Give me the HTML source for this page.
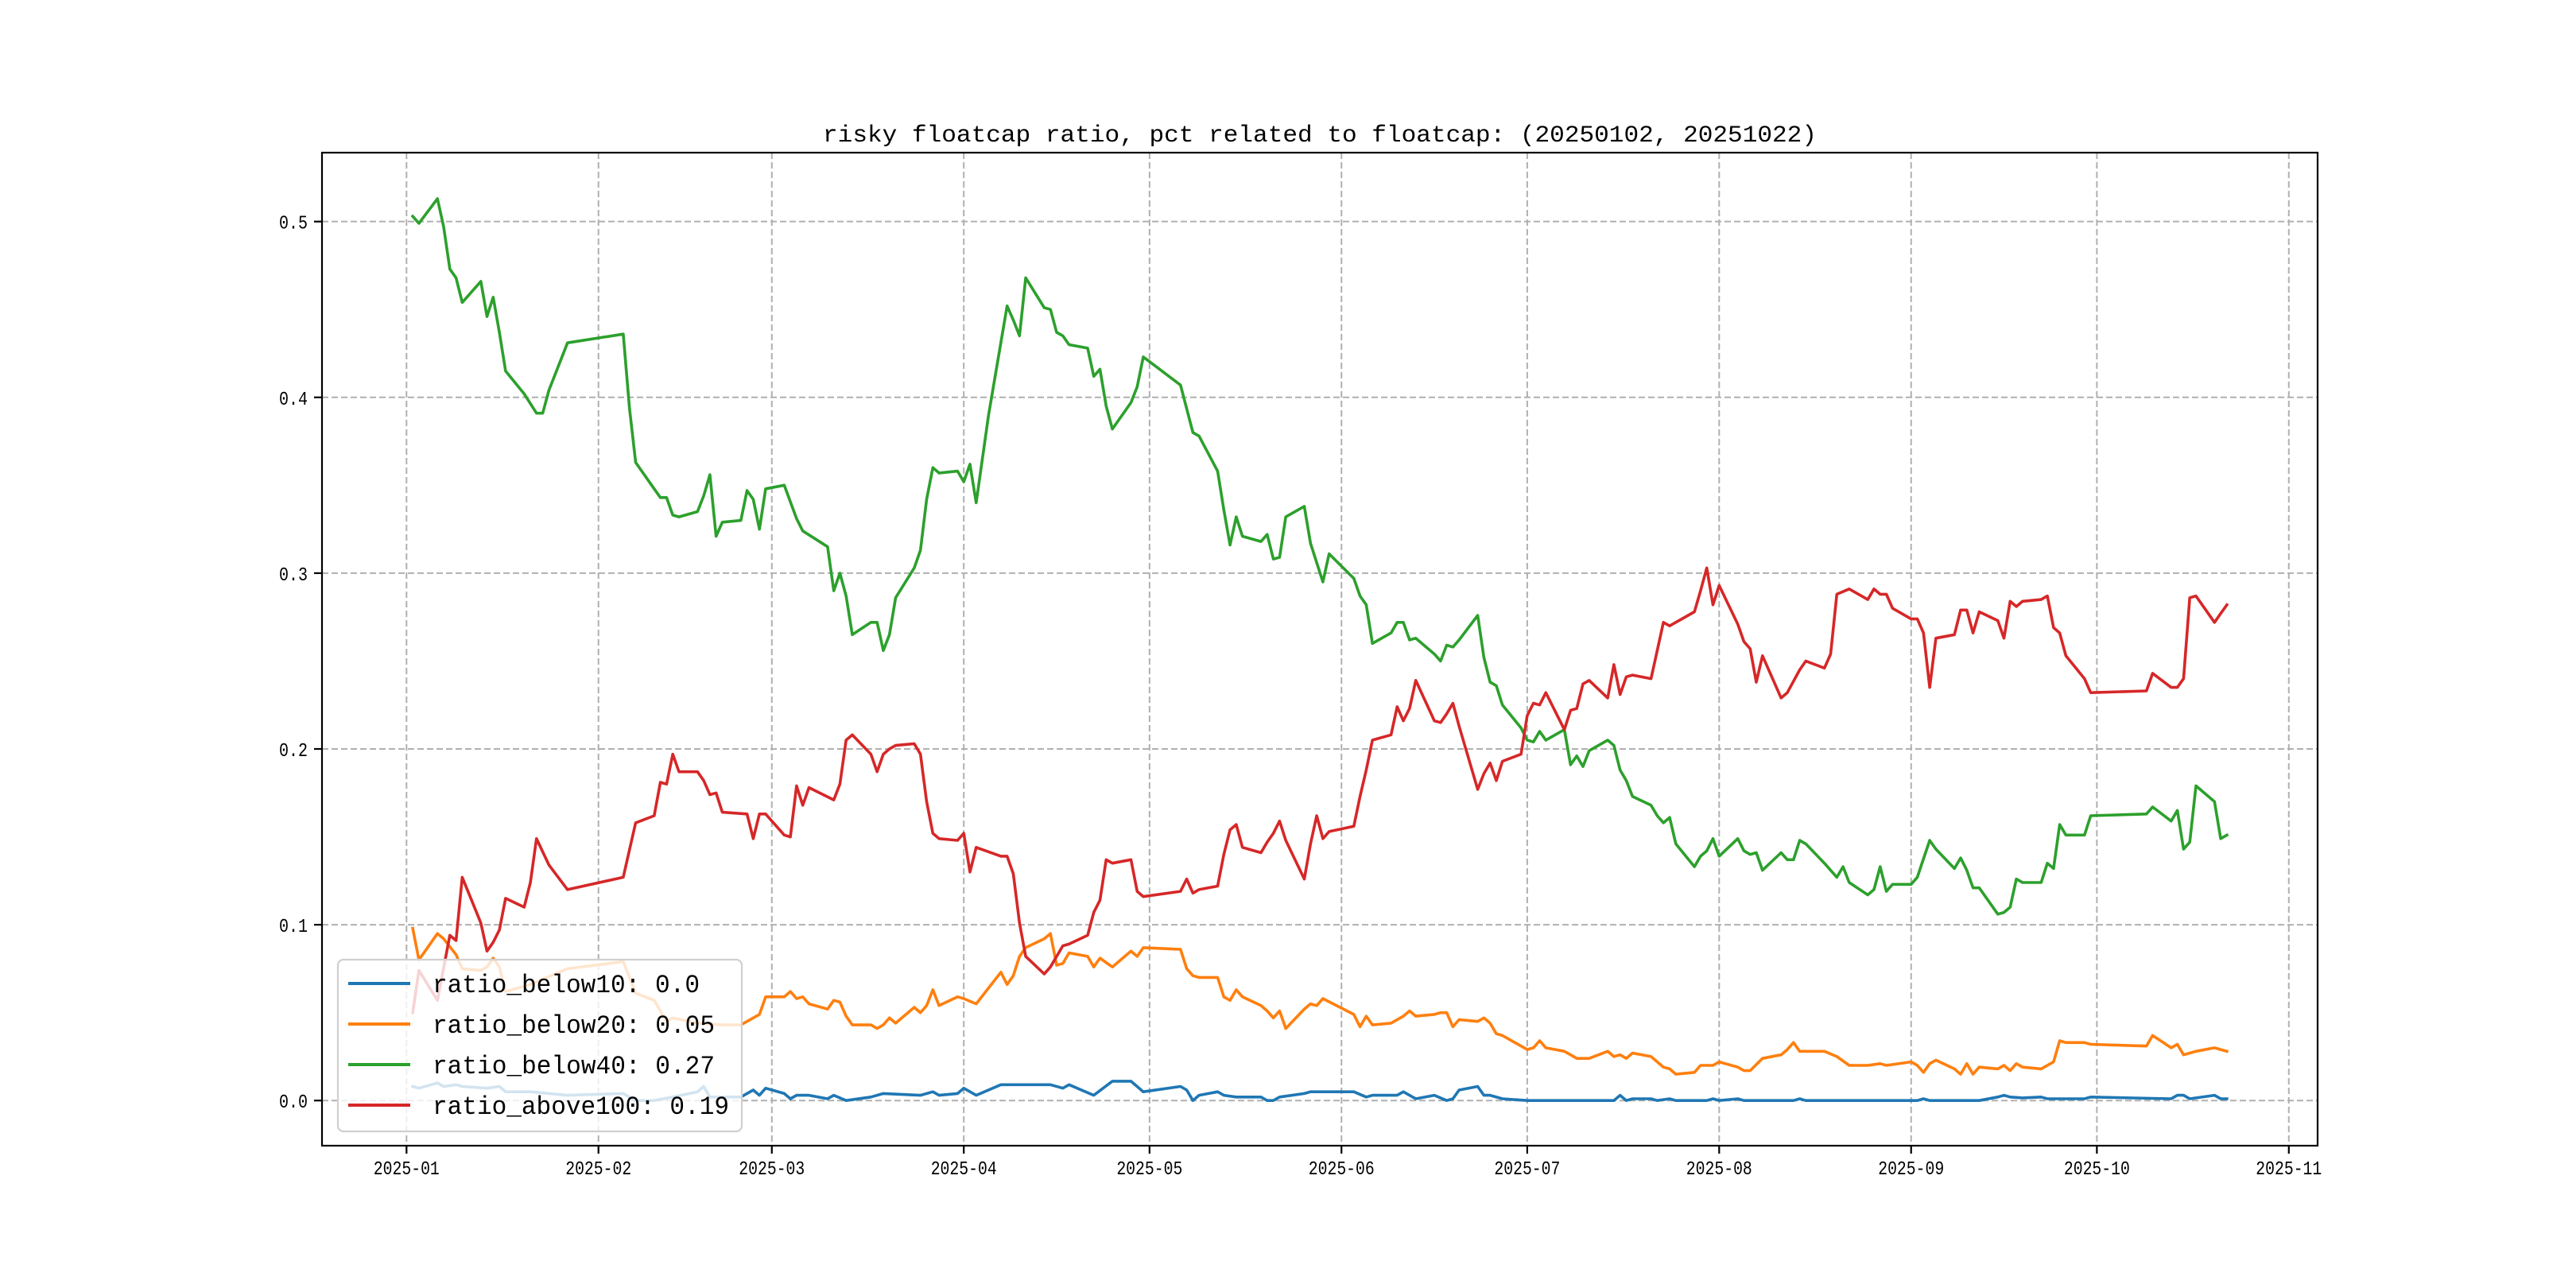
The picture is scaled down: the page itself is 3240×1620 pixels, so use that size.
<!DOCTYPE html>
<html><head><meta charset="utf-8"><style>
html,body{margin:0;padding:0;background:#fff;}
svg{display:block;}
text{font-family:"Liberation Mono","WenQuanYi Zen Hei",monospace;fill:#000;}
</style></head><body>
<svg id="chart" width="3240" height="1620" viewBox="0 0 3240 1620" xmlns="http://www.w3.org/2000/svg">
<rect width="3240" height="1620" fill="#fff"/>
<text x="1660" y="178" text-anchor="middle" font-size="30" textLength="1250" lengthAdjust="spacingAndGlyphs">risky floatcap ratio, pct related to floatcap: (20250102, 20251022)</text>
<g id="grid"></g>
<g id="series"></g>
<rect x="405" y="192" width="2510" height="1249" fill="none" stroke="#000" stroke-width="2.2"/>
<g id="ticks"></g>
<g>
<rect x="425" y="1207" width="508" height="216" rx="7" fill="#fff" fill-opacity="0.8" stroke="#d0d0d0" stroke-width="2.2"/>
<line x1="438" y1="1237" x2="516" y2="1237" stroke="#1f77b4" stroke-width="4"/>
<text x="544" y="1248" font-size="32" textLength="336" lengthAdjust="spacingAndGlyphs">ratio_below10: 0.0</text>
<line x1="438" y1="1288" x2="516" y2="1288" stroke="#ff7f0e" stroke-width="4"/>
<text x="544" y="1299" font-size="32" textLength="355" lengthAdjust="spacingAndGlyphs">ratio_below20: 0.05</text>
<line x1="438" y1="1339" x2="516" y2="1339" stroke="#2ca02c" stroke-width="4"/>
<text x="544" y="1350" font-size="32" textLength="355" lengthAdjust="spacingAndGlyphs">ratio_below40: 0.27</text>
<line x1="438" y1="1390" x2="516" y2="1390" stroke="#d62728" stroke-width="4"/>
<text x="544" y="1401" font-size="32" textLength="373" lengthAdjust="spacingAndGlyphs">ratio_above100: 0.19</text>
</g>
</svg>
<script>
// x data: day offset from 2025-01-01
const xTickLabels = ["2025-01","2025-02","2025-03","2025-04","2025-05","2025-06","2025-07","2025-08","2025-09","2025-10","2025-11"];
const xTickDays = [0,31,59,90,120,151,181,212,243,273,304];
const yTickValues = [0.0,0.1,0.2,0.3,0.4,0.5];
const yTickLabels = ["0.0","0.1","0.2","0.3","0.4","0.5"];

const below40Days = [1,2,5,6,7,8,9,12,13,14,15,16,19,21,22,23,26,35,36,37,40,41,42,43,44,47,48,49,50,51,54,55,56,57,58,61,63,64,68,69,70,71,72,75,76,77,78,79,82,83,84,85,86,89,90,91,92,94,97,98,99,100,103,104,105,106,107,110,111,112,113,114,117,118,119,125,127,128,131,132,133,134,135,138,139,140,141,142,145,146,148,149,153,154,155,156,159,160,161,162,163,166,167,168,169,170,173,174,175,176,177,180,181,182,183,184,187,188,189,190,191,194,195,196,197,198,201,202,203,204,205,208,209,210,211,212,215,216,217,218,219,222,223,224,225,226,229,231,232,233,236,237,238,239,240,243,244,246,247,250,251,252,253,254,257,258,259,260,261,264,265,266,267,268,271,272,281,282,285,286,287,288,289,292,293,294];
const below40Vals = [0.503,0.499,0.513,0.497,0.473,0.468,0.454,0.466,0.446,0.457,0.437,0.415,0.402,0.391,0.391,0.404,0.431,0.436,0.394,0.363,0.348,0.343,0.343,0.333,0.332,0.335,0.344,0.356,0.321,0.329,0.330,0.347,0.342,0.325,0.348,0.350,0.331,0.324,0.315,0.290,0.300,0.287,0.265,0.272,0.272,0.256,0.265,0.286,0.303,0.313,0.342,0.360,0.357,0.358,0.352,0.362,0.340,0.390,0.452,0.444,0.435,0.468,0.451,0.450,0.437,0.435,0.430,0.428,0.412,0.416,0.395,0.382,0.397,0.406,0.423,0.407,0.380,0.378,0.358,0.336,0.316,0.332,0.321,0.318,0.322,0.308,0.309,0.332,0.338,0.317,0.295,0.311,0.297,0.287,0.282,0.260,0.266,0.272,0.272,0.262,0.263,0.254,0.250,0.259,0.258,0.262,0.276,0.252,0.238,0.236,0.225,0.212,0.205,0.204,0.210,0.205,0.211,0.191,0.196,0.190,0.199,0.205,0.202,0.188,0.182,0.173,0.168,0.162,0.158,0.161,0.146,0.133,0.139,0.142,0.149,0.139,0.149,0.142,0.140,0.141,0.131,0.141,0.137,0.137,0.148,0.146,0.135,0.127,0.133,0.124,0.117,0.120,0.133,0.119,0.123,0.123,0.127,0.148,0.143,0.132,0.138,0.131,0.121,0.121,0.106,0.107,0.110,0.126,0.124,0.124,0.135,0.132,0.157,0.151,0.151,0.162,0.163,0.167,0.159,0.165,0.143,0.147,0.179,0.170,0.149,0.151];

const above100Days = [1,2,5,7,8,9,12,13,14,15,16,19,20,21,23,26,35,37,40,41,42,43,44,47,48,49,50,51,55,56,57,58,61,62,63,64,65,69,70,71,72,75,76,77,78,79,82,83,84,85,86,89,90,91,92,96,97,98,99,100,103,104,106,107,110,111,112,113,114,117,118,119,125,126,127,128,131,132,133,134,135,138,139,140,141,142,145,146,147,148,149,153,154,155,156,159,160,161,162,163,166,167,168,169,170,173,174,175,176,177,180,181,182,183,184,187,188,189,190,191,194,195,196,197,198,201,202,203,204,208,209,210,211,212,215,216,217,218,219,222,223,225,226,229,230,231,233,236,237,238,239,240,243,244,245,246,247,250,251,252,253,254,257,258,259,260,261,264,265,266,267,268,271,272,281,282,285,286,287,288,289,292,293,294];
const above100Vals = [0.050,0.074,0.057,0.094,0.091,0.127,0.101,0.085,0.090,0.097,0.115,0.110,0.124,0.149,0.134,0.120,0.127,0.158,0.162,0.181,0.180,0.197,0.187,0.187,0.182,0.174,0.175,0.164,0.163,0.149,0.163,0.163,0.151,0.150,0.179,0.168,0.178,0.171,0.180,0.205,0.208,0.197,0.187,0.197,0.200,0.202,0.203,0.197,0.170,0.152,0.149,0.148,0.152,0.130,0.144,0.139,0.139,0.129,0.101,0.082,0.072,0.076,0.088,0.089,0.094,0.107,0.114,0.137,0.135,0.137,0.119,0.116,0.119,0.126,0.118,0.120,0.122,0.140,0.154,0.157,0.144,0.141,0.147,0.152,0.159,0.148,0.126,0.146,0.162,0.149,0.153,0.156,0.173,0.188,0.205,0.208,0.224,0.216,0.223,0.239,0.216,0.215,0.220,0.226,0.213,0.177,0.186,0.192,0.182,0.193,0.197,0.219,0.226,0.225,0.232,0.211,0.222,0.223,0.237,0.239,0.229,0.248,0.231,0.241,0.242,0.240,0.256,0.272,0.270,0.278,0.290,0.303,0.282,0.293,0.271,0.261,0.257,0.238,0.253,0.229,0.232,0.245,0.250,0.246,0.254,0.288,0.291,0.285,0.291,0.288,0.288,0.280,0.274,0.274,0.266,0.235,0.263,0.265,0.279,0.279,0.266,0.278,0.273,0.263,0.284,0.281,0.284,0.285,0.287,0.269,0.266,0.253,0.240,0.232,0.233,0.243,0.235,0.235,0.240,0.286,0.287,0.272,0.277,0.282];

const below20Days = [1,2,5,6,8,9,12,13,14,15,16,20,26,35,37,40,42,43,47,51,54,56,57,58,61,62,63,64,65,68,69,70,71,72,75,76,77,78,79,82,83,84,85,86,89,90,92,96,97,98,99,100,103,104,105,106,107,110,111,112,114,117,118,119,125,126,127,128,131,132,133,134,135,138,139,140,141,142,145,146,147,148,153,154,155,156,159,161,162,163,166,167,168,169,170,173,174,175,176,177,181,182,183,184,187,188,189,191,194,195,196,197,198,201,203,204,205,208,209,211,212,215,216,217,219,222,223,224,225,229,231,233,236,238,239,243,244,245,246,247,250,251,252,253,254,257,258,259,260,261,264,266,267,268,271,272,281,282,285,286,287,288,289,292,293,294];
const below20Vals = [0.098,0.080,0.095,0.092,0.083,0.075,0.074,0.076,0.081,0.076,0.062,0.066,0.075,0.079,0.061,0.057,0.045,0.047,0.044,0.043,0.043,0.047,0.049,0.059,0.059,0.062,0.058,0.059,0.055,0.052,0.057,0.056,0.048,0.043,0.043,0.041,0.043,0.047,0.044,0.053,0.050,0.054,0.063,0.054,0.059,0.058,0.055,0.073,0.066,0.071,0.082,0.087,0.092,0.095,0.077,0.078,0.084,0.082,0.076,0.081,0.076,0.085,0.082,0.087,0.086,0.075,0.071,0.070,0.070,0.059,0.057,0.063,0.059,0.054,0.051,0.047,0.051,0.041,0.052,0.055,0.054,0.058,0.049,0.042,0.048,0.043,0.044,0.048,0.051,0.048,0.049,0.050,0.050,0.042,0.046,0.045,0.047,0.044,0.038,0.037,0.029,0.030,0.034,0.030,0.028,0.026,0.024,0.024,0.028,0.025,0.026,0.024,0.027,0.025,0.019,0.018,0.015,0.016,0.020,0.020,0.022,0.019,0.017,0.017,0.024,0.026,0.029,0.033,0.028,0.028,0.025,0.020,0.020,0.021,0.020,0.022,0.020,0.016,0.021,0.023,0.018,0.015,0.021,0.015,0.019,0.018,0.020,0.017,0.021,0.019,0.018,0.022,0.034,0.033,0.033,0.032,0.031,0.037,0.030,0.032,0.026,0.027,0.028,0.030,0.029,0.028];

const below10Days = [1,2,5,6,8,9,13,15,16,20,26,35,37,40,43,47,48,49,54,56,57,58,61,62,63,65,68,69,71,75,77,83,85,86,89,90,92,96,104,106,107,111,114,117,119,125,126,127,128,131,132,134,138,139,140,141,145,146,153,155,156,160,161,163,166,168,169,170,173,174,175,177,181,195,196,197,198,201,202,204,205,210,211,212,215,216,224,225,226,244,245,246,254,257,258,259,261,264,265,271,272,285,286,287,288,292,293,294];
const below10Vals = [0.008,0.007,0.010,0.008,0.009,0.008,0.007,0.008,0.005,0.005,0.003,0.004,0.000,0.000,0.002,0.005,0.008,0.002,0.002,0.006,0.003,0.007,0.004,0.001,0.003,0.003,0.001,0.003,0.000,0.002,0.004,0.003,0.005,0.003,0.004,0.007,0.003,0.009,0.009,0.007,0.009,0.003,0.011,0.011,0.005,0.008,0.006,0.000,0.003,0.005,0.003,0.002,0.002,0.000,0.000,0.002,0.004,0.005,0.005,0.002,0.003,0.003,0.005,0.001,0.003,0.000,0.001,0.006,0.008,0.003,0.003,0.001,0.000,0.000,0.003,0.000,0.001,0.001,0.000,0.001,0.000,0.000,0.001,0.000,0.001,0.000,0.000,0.001,0.000,0.000,0.001,0.000,0.000,0.002,0.003,0.002,0.0015,0.002,0.001,0.001,0.002,0.001,0.003,0.003,0.001,0.003,0.001,0.001];

const NS = "http://www.w3.org/2000/svg";
const L = 405, R = 2915, T = 192, B = 1441;
const X0 = -13.65, X1 = 308.65, Y0 = -0.02568, Y1 = 0.5392;
function xs(d){ return L + (d - X0) / (X1 - X0) * (R - L); }
function ys(v){ return B - (v - Y0) / (Y1 - Y0) * (B - T); }
function mk(tag, attrs, parent){
  const e = document.createElementNS(NS, tag);
  for (const k in attrs) e.setAttribute(k, attrs[k]);
  parent.appendChild(e);
  return e;
}
const grid = document.getElementById('grid');
const ticks = document.getElementById('ticks');
xTickDays.forEach((d, i) => {
  const x = xs(d);
  const g = mk('line', {x1:x, y1:T, x2:x, y2:B, stroke:'#b0b0b0', 'stroke-width':2, 'stroke-dasharray':'8,4'}, grid);
  
  
  const t = mk('line', {x1:x, y1:B, x2:x, y2:B+10, stroke:'#000', 'stroke-width':2.2}, ticks);
  
  
  const lb = mk('text', {x:x, y:1477, 'text-anchor':'middle', 'font-size':24, textLength:83, lengthAdjust:'spacingAndGlyphs'}, ticks);
  lb.textContent = xTickLabels[i];
  
  
});
yTickValues.forEach((v, i) => {
  const y = ys(v);
  const g = mk('line', {x1:L, y1:y, x2:R, y2:y, stroke:'#b0b0b0', 'stroke-width':2, 'stroke-dasharray':'8,4'}, grid);
  
  
  const t = mk('line', {x1:L-10, y1:y, x2:L, y2:y, stroke:'#000', 'stroke-width':2.2}, ticks);
  
  
  const lb = mk('text', {x:387, y:y+9, 'text-anchor':'end', 'font-size':24, textLength:36, lengthAdjust:'spacingAndGlyphs'}, ticks);
  lb.textContent = yTickLabels[i];
  
  
});
const seriesG = document.getElementById('series');
function drawLine(days, vals, color, name){
  const pts = days.map((d, i) => xs(d).toFixed(1) + ',' + ys(vals[i]).toFixed(1)).join(' ');
  const p = mk('polyline', {points:pts, fill:'none', stroke:color, 'stroke-width':3.6, 'stroke-linejoin':'round', 'stroke-linecap':'square'}, seriesG);
  
  
}
drawLine(below10Days, below10Vals, '#1f77b4', 'line-ratio-below10');
drawLine(below20Days, below20Vals, '#ff7f0e', 'line-ratio-below20');
drawLine(below40Days, below40Vals, '#2ca02c', 'line-ratio-below40');
drawLine(above100Days, above100Vals, '#d62728', 'line-ratio-above100');
</script>
</body></html>
